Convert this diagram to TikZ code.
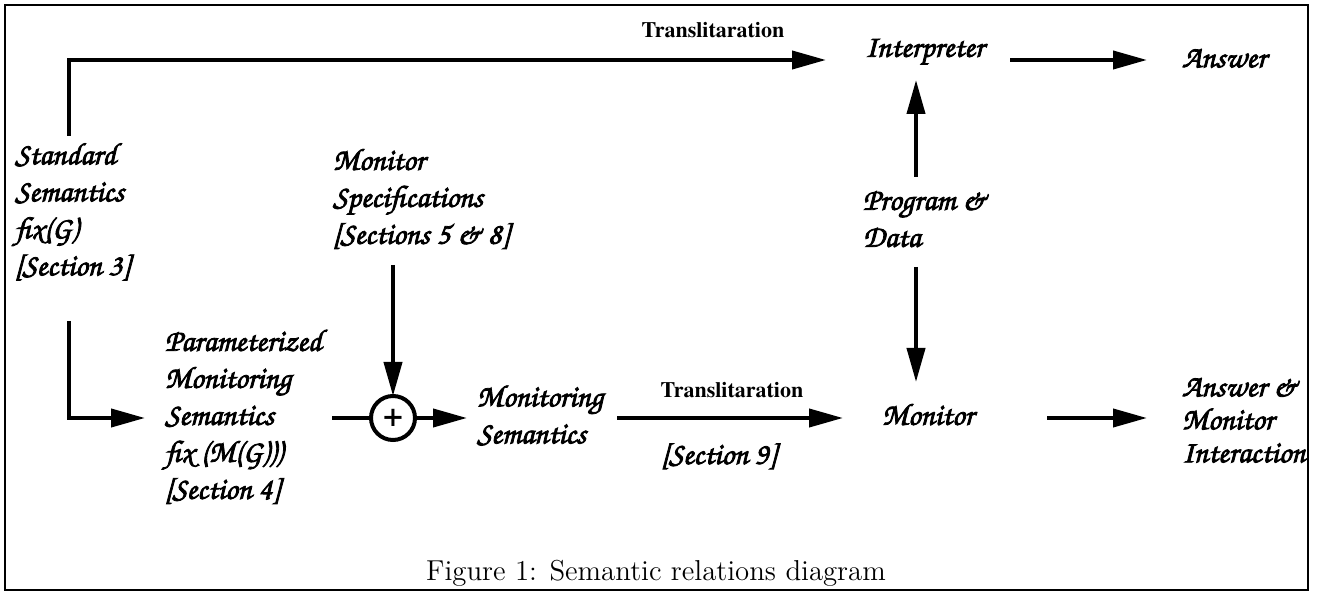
\documentclass[tikz,border=0pt]{standalone}
\usepackage[T1,TU]{fontenc}
\usetikzlibrary{arrows.meta,calc}
\newcommand{\heavytext}{\special{pdf:literal direct 2 Tr 0.4 w}}
\tikzset{
  lbl/.style={font=\usefont{T1}{pzc}{mb}{it}\fontsize{15.5}{18.5}\selectfont\heavytext,
              align=left, anchor=west, inner sep=0pt, outer sep=0pt},
  trl/.style={font=\usefont{T1}{ptm}{b}{n}\fontsize{11}{13}\selectfont,
              inner sep=0pt, outer sep=0pt},
  ln/.style={line width=2pt},
  arr/.style={ln, -{Triangle[length=17pt,width=9pt]}},
  sumnode/.style={circle, draw, line width=2pt, minimum size=22pt,
              inner sep=0pt, outer sep=0pt},
}
\begin{document}
\begin{tikzpicture}[x=0.5pt,y=-0.5pt]
\useasboundingbox (0,0) rectangle (1320,592);
\draw[line width=1pt] (5,5) rectangle (1308,590);

% nodes
\node[lbl] (std) at (15,212) {Standard\\Semantics\\fix(G)\\{}[Section 3]};
\node[lbl] (spec) at (333,199) {Monitor\\Specifications\\{}[Sections 5 \& 8]};
\node[lbl] (param) at (165,417) {Parameterized\\Monitoring\\Semantics\\fix (M(G)))\\{}[Section 4]};
\node[sumnode] (plus) at (393,418) {\usefont{T1}{ptm}{b}{n}\fontsize{17}{17}\selectfont +};
\node[lbl] (msem) at (477,415) {Monitoring\\Semantics};
\node[lbl] (interp) at (865,52) {Interpreter};
\node[lbl] (ans) at (1182,58) {Answer};
\node[lbl] (pd) at (863,219) {Program \&\\Data};
\node[lbl] (mon) at (882,414) {Monitor};
\node[lbl, font=\usefont{T1}{pzc}{mb}{it}\fontsize{15.5}{16.5}\selectfont\heavytext] (ansmon) at (1182,420) {Answer \&\\Monitor\\Interaction};
\node[trl] (tr1) at (713,30) {Translitaration};
\node[trl] (tr2) at (732,390) {Translitaration};
\node[lbl, anchor=center] (sec9) at (720,457) {[Section 9]};
\node[font=\fontsize{14.4}{17}\selectfont, inner sep=0pt] (cap) at (656,573) {Figure 1: Semantic relations diagram};

% connectors
\draw[arr] ($(std.west)+(54,-76)$) |- ($(interp.west)+(-39,8)$);
\draw[arr] ($(std.west)+(54,109)$) |- ($(param.west)+(-20,1)$);
\draw[arr] ($(spec.west)+(60,66)$) -- (plus.north);
\draw[ln] ($(param.west)+(167,1)$) -- (plus.west);
\draw[arr] (plus.east) -- ($(msem.west)+(-10,3)$);
\draw[arr] ($(msem.west)+(140,3)$) -- ($(mon.west)+(-39,4)$);
\draw[arr] ($(pd.west)+(53,-42)$) -- ($(interp.west)+(51,28)$);
\draw[arr] ($(pd.west)+(53,48)$) -- ($(mon.west)+(34,-32)$);
\draw[arr] ($(interp.west)+(145,8)$) -- ($(ans.west)+(-35,2)$);
\draw[arr] ($(mon.west)+(165,4)$) -- ($(ansmon.west)+(-35,-2)$);
\end{tikzpicture}
\end{document}
